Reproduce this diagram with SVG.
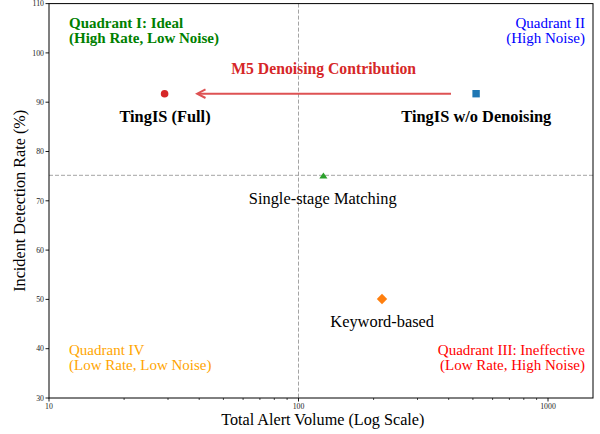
<svg xmlns="http://www.w3.org/2000/svg" width="600" height="434" viewBox="0 0 600 434">
  <defs>
    <style>
      text { font-family: "Liberation Serif", "Times New Roman", serif; }
      .tick { font-size: 7.8px; fill: #222; }
      .axlab { font-size: 16.2px; fill: #000; }
      .quad { font-size: 15px; }
      .qbold { font-weight: bold; }
      .pt { font-size: 16.4px; fill: #000; }
      .ptb { font-size: 16.4px; font-weight: bold; fill: #000; }
      .spine { stroke: #000; stroke-width: 1; fill: none; }
      .tk { stroke: #000; stroke-width: 0.9; }
      .mtk { stroke: #000; stroke-width: 0.7; }
      .ref { stroke: #9a9a9a; stroke-width: 0.9; stroke-dasharray: 4 2; fill: none; }
    </style>
  </defs>

  <rect width="600" height="434" fill="#fff"/>

  <!-- reference lines at x = 100 and y = 75 -->
  <g id="reference-lines">
    <line class="ref" x1="298.5" y1="3.6" x2="298.5" y2="398"/>
    <line class="ref" x1="49" y1="175.3" x2="593" y2="175.3"/>
  </g>

  <!-- axes frame -->
  <g id="axes">
    <rect class="spine" x="49" y="3.6" width="544" height="394.4"/>
    <!-- y ticks -->
    <g class="tk">
      <line x1="45.5" y1="398" x2="49" y2="398"/>
      <line x1="45.5" y1="348.7" x2="49" y2="348.7"/>
      <line x1="45.5" y1="299.4" x2="49" y2="299.4"/>
      <line x1="45.5" y1="250.1" x2="49" y2="250.1"/>
      <line x1="45.5" y1="200.8" x2="49" y2="200.8"/>
      <line x1="45.5" y1="151.5" x2="49" y2="151.5"/>
      <line x1="45.5" y1="102.2" x2="49" y2="102.2"/>
      <line x1="45.5" y1="52.9" x2="49" y2="52.9"/>
      <line x1="45.5" y1="3.6" x2="49" y2="3.6"/>
    </g>
    <g class="tick" text-anchor="end">
      <text x="44" y="400.7">30</text>
      <text x="44" y="351.4">40</text>
      <text x="44" y="302.1">50</text>
      <text x="44" y="252.8">60</text>
      <text x="44" y="203.5">70</text>
      <text x="44" y="154.2">80</text>
      <text x="44" y="104.9">90</text>
      <text x="44" y="55.6">100</text>
      <text x="44" y="6.3">110</text>
    </g>
    <!-- x ticks (log scale) -->
    <g class="tk">
      <line x1="49" y1="398" x2="49" y2="401.5"/>
      <line x1="298.5" y1="398" x2="298.5" y2="401.5"/>
      <line x1="548" y1="398" x2="548" y2="401.5"/>
    </g>
    <g class="mtk">
      <line x1="124.1" y1="398" x2="124.1" y2="400"/>
      <line x1="168" y1="398" x2="168" y2="400"/>
      <line x1="199.2" y1="398" x2="199.2" y2="400"/>
      <line x1="223.4" y1="398" x2="223.4" y2="400"/>
      <line x1="243.1" y1="398" x2="243.1" y2="400"/>
      <line x1="259.9" y1="398" x2="259.9" y2="400"/>
      <line x1="274.3" y1="398" x2="274.3" y2="400"/>
      <line x1="287.1" y1="398" x2="287.1" y2="400"/>
      <line x1="373.6" y1="398" x2="373.6" y2="400"/>
      <line x1="417.5" y1="398" x2="417.5" y2="400"/>
      <line x1="448.7" y1="398" x2="448.7" y2="400"/>
      <line x1="472.9" y1="398" x2="472.9" y2="400"/>
      <line x1="492.6" y1="398" x2="492.6" y2="400"/>
      <line x1="509.4" y1="398" x2="509.4" y2="400"/>
      <line x1="523.8" y1="398" x2="523.8" y2="400"/>
      <line x1="536.6" y1="398" x2="536.6" y2="400"/>
    </g>
    <g class="tick" text-anchor="middle">
      <text x="49" y="409">10</text>
      <text x="298.5" y="409">100</text>
      <text x="548" y="409">1000</text>
    </g>
    <text class="axlab" x="322.8" y="425" text-anchor="middle">Total Alert Volume (Log Scale)</text>
    <text class="axlab" transform="translate(25,200.8) rotate(-90)" text-anchor="middle">Incident Detection Rate (%)</text>
  </g>

  <!-- quadrant captions -->
  <g id="quadrant-1" class="quad qbold" fill="#008000">
    <text x="69" y="28.3">Quadrant I: Ideal</text>
    <text x="69" y="43.3">(High Rate, Low Noise)</text>
  </g>
  <g id="quadrant-2" class="quad" fill="#0000ff" text-anchor="end">
    <text x="585" y="28.3">Quadrant II</text>
    <text x="585" y="43.3">(High Noise)</text>
  </g>
  <g id="quadrant-3" class="quad" fill="#ff0000" text-anchor="end">
    <text x="585" y="355">Quadrant III: Ineffective</text>
    <text x="585" y="370">(Low Rate, High Noise)</text>
  </g>
  <g id="quadrant-4" class="quad" fill="#ffa500">
    <text x="69" y="355">Quadrant IV</text>
    <text x="69" y="370">(Low Rate, Low Noise)</text>
  </g>

  <!-- connector: denoising contribution -->
  <g id="connectors">
    <g stroke="#de5253" stroke-width="2" fill="none" stroke-linecap="butt">
      <line x1="451" y1="93.7" x2="198" y2="93.7"/>
      <path d="M205.5,89.4 L197.2,93.7 L205.5,98"/>
    </g>
    <text x="323.7" y="73.5" text-anchor="middle" font-size="15.7" font-weight="bold" fill="#d62728">M5 Denoising Contribution</text>
  </g>

  <!-- data points -->
  <g id="tingis-full">
    <circle cx="164.6" cy="93.7" r="3.8" fill="#d62728"/>
    <text class="ptb" x="165" y="121.7" text-anchor="middle">TingIS (Full)</text>
  </g>
  <g id="tingis-no-denoise">
    <rect x="472.4" y="90" width="7.4" height="7.4" fill="#1f77b4"/>
    <text class="ptb" x="476.3" y="121.7" text-anchor="middle">TingIS w/o Denoising</text>
  </g>
  <g id="single-stage">
    <path d="M323.4,172.6 L327.5,178.6 L319.3,178.6 Z" fill="#2ca02c"/>
    <text class="pt" x="322.8" y="204.3" text-anchor="middle">Single-stage Matching</text>
  </g>
  <g id="keyword-based">
    <path d="M382,293.8 L387.2,299 L382,304.2 L376.8,299 Z" fill="#ff7f0e"/>
    <text class="pt" x="382.2" y="326.7" text-anchor="middle">Keyword-based</text>
  </g>
</svg>
